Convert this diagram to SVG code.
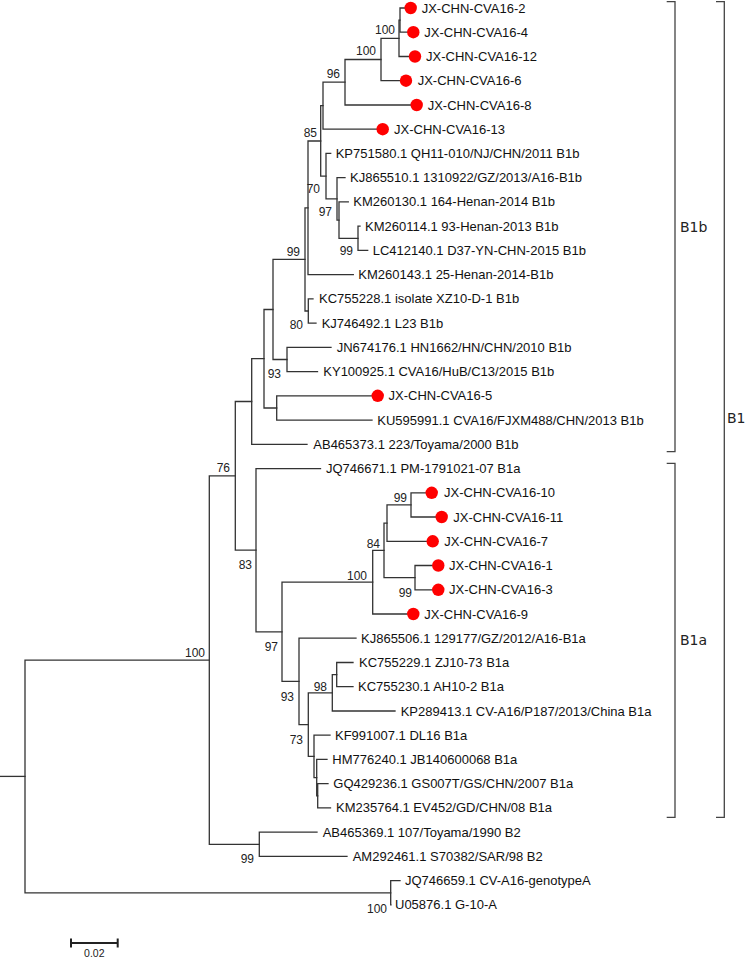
<svg xmlns="http://www.w3.org/2000/svg" width="746" height="961" viewBox="0 0 746 961">
<style>
.br{fill:none;stroke:#333;stroke-width:1.3;stroke-linecap:square}
.lf{font-family:"Liberation Sans",Arial,sans-serif;font-size:13px;fill:#111}
.bs{font-family:"Liberation Sans",Arial,sans-serif;font-size:12px;fill:#222;text-anchor:end}
.dot{fill:#ff0000}
.bk{fill:none;stroke:#444;stroke-width:1.3}
.bl{font-family:"DejaVu Sans",Verdana,sans-serif;font-size:14px;fill:#222}
</style>
<rect width="746" height="961" fill="#fff"/>
<g id="connectors" class="br">
<path d="M0,776.4 H25"/>
<path d="M209.3,660.1 H25 V892.8 H390.7"/>
<path d="M400,880.6 H390.7 V904.9 H391"/>
<path d="M235.3,475.9 H209.3 V844.3 H259.3"/>
<path d="M317,832.2 H259.3 V856.4 H347"/>
<path d="M251.7,401.5 H235.3 V550.2 H256"/>
<path d="M264,358.7 H251.7 V444.3 H307"/>
<path d="M273,309.5 H264 V408 H276.7"/>
<path d="M371.7,395.8 H276.7 V420.1 H372"/>
<path d="M305,259.4 H273 V359.5 H287"/>
<path d="M331,347.4 H287 V371.6 H317.5"/>
<path d="M308,207.8 H305 V311 H308.3"/>
<path d="M313,298.9 H308.3 V323.1 H316"/>
<path d="M320.7,141 H308 V274.6 H353.3"/>
<path d="M323,105.7 H320.7 V176.2 H326"/>
<path d="M330.7,153.4 H326 V198.9 H337"/>
<path d="M345,177.7 H337 V220.1 H339"/>
<path d="M348.3,201.9 H339 V238.3 H358"/>
<path d="M360,226.2 H358 V250.4 H367.7"/>
<path d="M345,82.2 H323 V129.2 H376.7"/>
<path d="M381,59.5 H345 V105 H410.7"/>
<path d="M399,38.3 H381 V80.7 H400"/>
<path d="M400,20.1 H399 V56.5 H409"/>
<path d="M404.7,8 H400 V32.2 H407.3"/>
<path d="M320.5,468.6 H256 V631.8 H282"/>
<path d="M372.7,582.2 H282 V681.4 H299"/>
<path d="M384,550.4 H372.7 V614 H407.3"/>
<path d="M387,523.1 H384 V577.6 H415"/>
<path d="M411,504.9 H387 V541.3 H426.7"/>
<path d="M425.7,492.8 H411 V517 H435.7"/>
<path d="M432.3,565.5 H415 V589.8 H432.3"/>
<path d="M356,638.2 H299 V724.6 H308.3"/>
<path d="M332.3,692.8 H308.3 V756.4 H314"/>
<path d="M336.7,674.6 H332.3 V711 H395"/>
<path d="M353,662.5 H336.7 V686.7 H353"/>
<path d="M330,735.2 H314 V777.6 H316.7"/>
<path d="M327,759.4 H316.7 V795.8 H317.7"/>
<path d="M328,783.7 H317.7 V807.9 H330.5"/>
</g>
<g id="bootstrap">
<text class="bs" x="395" y="33.5">100</text>
<text class="bs" x="376" y="54.5">100</text>
<text class="bs" x="340" y="77.5">96</text>
<text class="bs" x="317" y="136.5">85</text>
<text class="bs" x="320" y="192.5">70</text>
<text class="bs" x="332" y="215.5">97</text>
<text class="bs" x="353" y="254.5">99</text>
<text class="bs" x="300" y="255.5">99</text>
<text class="bs" x="303" y="328.5">80</text>
<text class="bs" x="281" y="377.5">93</text>
<text class="bs" x="230" y="471.5">76</text>
<text class="bs" x="252" y="568.5">83</text>
<text class="bs" x="407" y="501.5">99</text>
<text class="bs" x="380" y="547.5">84</text>
<text class="bs" x="367" y="579.5">100</text>
<text class="bs" x="412" y="596.5">99</text>
<text class="bs" x="278" y="650.5">97</text>
<text class="bs" x="294" y="700.5">93</text>
<text class="bs" x="327" y="690.5">98</text>
<text class="bs" x="303" y="743.5">73</text>
<text class="bs" x="205" y="657">100</text>
<text class="bs" x="254" y="862.5">99</text>
<text class="bs" x="387" y="913">100</text>
</g>
<g id="leaves">
<g id="jx2"><circle class="dot" cx="410.7" cy="8" r="6.2"/><text class="lf" x="421.7" y="12.5">JX-CHN-CVA16-2</text></g>
<g id="jx4"><circle class="dot" cx="413.3" cy="32.2" r="6.2"/><text class="lf" x="424.3" y="36.7">JX-CHN-CVA16-4</text></g>
<g id="jx12"><circle class="dot" cx="415" cy="56.5" r="6.2"/><text class="lf" x="426" y="61">JX-CHN-CVA16-12</text></g>
<g id="jx6"><circle class="dot" cx="406" cy="80.7" r="6.2"/><text class="lf" x="417.7" y="85.2">JX-CHN-CVA16-6</text></g>
<g id="jx8"><circle class="dot" cx="416.7" cy="105" r="6.2"/><text class="lf" x="427.7" y="109.5">JX-CHN-CVA16-8</text></g>
<g id="jx13"><circle class="dot" cx="382.7" cy="129.2" r="6.2"/><text class="lf" x="394" y="133.7">JX-CHN-CVA16-13</text></g>
<g id="kp751580"><text class="lf" x="335.7" y="157.9">KP751580.1 QH11-010/NJ/CHN/2011 B1b</text></g>
<g id="kj865510"><text class="lf" x="350" y="182.2">KJ865510.1 1310922/GZ/2013/A16-B1b</text></g>
<g id="km260130"><text class="lf" x="353.3" y="206.4">KM260130.1 164-Henan-2014 B1b</text></g>
<g id="km260114"><text class="lf" x="365" y="230.7">KM260114.1 93-Henan-2013 B1b</text></g>
<g id="lc412140"><text class="lf" x="372.7" y="254.9">LC412140.1 D37-YN-CHN-2015 B1b</text></g>
<g id="km260143"><text class="lf" x="358.3" y="279.1">KM260143.1 25-Henan-2014-B1b</text></g>
<g id="kc755228"><text class="lf" x="319" y="303.4">KC755228.1 isolate XZ10-D-1 B1b</text></g>
<g id="kj746492"><text class="lf" x="321.7" y="327.6">KJ746492.1 L23 B1b</text></g>
<g id="jn674176"><text class="lf" x="336.7" y="351.9">JN674176.1 HN1662/HN/CHN/2010 B1b</text></g>
<g id="ky100925"><text class="lf" x="323.3" y="376.1">KY100925.1 CVA16/HuB/C13/2015 B1b</text></g>
<g id="jx5"><circle class="dot" cx="377.7" cy="395.8" r="6.2"/><text class="lf" x="388.5" y="400.3">JX-CHN-CVA16-5</text></g>
<g id="ku595991"><text class="lf" x="377.3" y="424.6">KU595991.1 CVA16/FJXM488/CHN/2013 B1b</text></g>
<g id="ab465373"><text class="lf" x="313.3" y="448.8">AB465373.1 223/Toyama/2000 B1b</text></g>
<g id="jq746671"><text class="lf" x="326" y="473.1">JQ746671.1 PM-1791021-07 B1a</text></g>
<g id="jx10"><circle class="dot" cx="431.7" cy="492.8" r="6.2"/><text class="lf" x="444" y="497.3">JX-CHN-CVA16-10</text></g>
<g id="jx11"><circle class="dot" cx="441.7" cy="517" r="6.2"/><text class="lf" x="453.3" y="521.5">JX-CHN-CVA16-11</text></g>
<g id="jx7"><circle class="dot" cx="432.7" cy="541.3" r="6.2"/><text class="lf" x="444.3" y="545.8">JX-CHN-CVA16-7</text></g>
<g id="jx1"><circle class="dot" cx="438.3" cy="565.5" r="6.2"/><text class="lf" x="449" y="570">JX-CHN-CVA16-1</text></g>
<g id="jx3"><circle class="dot" cx="438.3" cy="589.8" r="6.2"/><text class="lf" x="449" y="594.3">JX-CHN-CVA16-3</text></g>
<g id="jx9"><circle class="dot" cx="413.3" cy="614" r="6.2"/><text class="lf" x="424.3" y="618.5">JX-CHN-CVA16-9</text></g>
<g id="kj865506"><text class="lf" x="361" y="642.7">KJ865506.1 129177/GZ/2012/A16-B1a</text></g>
<g id="kc755229"><text class="lf" x="359" y="667">KC755229.1 ZJ10-73 B1a</text></g>
<g id="kc755230"><text class="lf" x="358" y="691.2">KC755230.1 AH10-2 B1a</text></g>
<g id="kp289413"><text class="lf" x="400.7" y="715.5">KP289413.1 CV-A16/P187/2013/China B1a</text></g>
<g id="kf991007"><text class="lf" x="335" y="739.7">KF991007.1 DL16 B1a</text></g>
<g id="hm776240"><text class="lf" x="332.3" y="763.9">HM776240.1 JB140600068 B1a</text></g>
<g id="gq429236"><text class="lf" x="333.3" y="788.2">GQ429236.1 GS007T/GS/CHN/2007 B1a</text></g>
<g id="km235764"><text class="lf" x="336" y="812.4">KM235764.1 EV452/GD/CHN/08 B1a</text></g>
<g id="ab465369"><text class="lf" x="322.7" y="836.7">AB465369.1 107/Toyama/1990 B2</text></g>
<g id="am292461"><text class="lf" x="352.7" y="860.9">AM292461.1 S70382/SAR/98 B2</text></g>
<g id="jq746659"><text class="lf" x="405" y="885.1">JQ746659.1 CV-A16-genotypeA</text></g>
<g id="u05876"><text class="lf" x="395" y="909.4">U05876.1 G-10-A</text></g>
</g>
<g id="clades">
<g id="b1b"><path class="bk" d="M666.7,1.7 H675 V451.7 H666.7"/><text class="bl" x="680" y="231.7">B1b</text></g>
<g id="b1a"><path class="bk" d="M666.7,463.3 H675 V817.3 H666.7"/><text class="bl" x="680" y="645">B1a</text></g>
<g id="b1"><path class="bk" d="M716,1.7 H724.3 V817.3 H716"/><text class="bl" x="727" y="423">B1</text></g>
</g>
<g id="scalebar">
<path d="M71,943 H117.7 M71,938.5 V947.5 M117.7,938.5 V947.5" fill="none" stroke="#222" stroke-width="2"/>
<text x="94.3" y="957" font-family="Liberation Sans, Arial, sans-serif" font-size="10.5" fill="#222" text-anchor="middle">0.02</text>
</g>
</svg>
